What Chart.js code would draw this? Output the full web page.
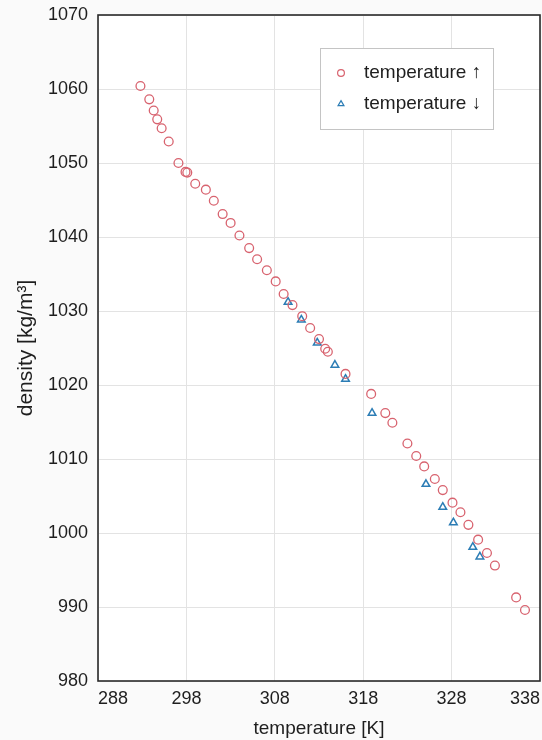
<!DOCTYPE html>
<html>
<head>
<meta charset="utf-8">
<script src="https://cdn.jsdelivr.net/npm/chart.js@4.4.1/dist/chart.umd.min.js"></script>
<style>
  html, body { margin: 0; padding: 0; background: #fafafa; }
  #wrap { width: 542px; height: 740px; position: relative; }
</style>
</head>
<body>
<div id="wrap"><canvas id="chart"></canvas></div>
<script>
// heating run (temperature up)
const upTemp = [292.8, 293.8, 294.3, 294.7, 295.2, 296.0, 297.1, 297.9, 298.1, 299.0, 300.2, 301.1,
  302.1, 303.0, 304.0, 305.1, 306.0, 307.1, 308.1, 309.0, 310.0, 311.1, 312.0, 313.0, 313.7, 314.0,
  316.0, 318.9, 320.5, 321.3, 323.0, 324.0, 324.9, 326.1, 327.0, 328.1, 329.0, 329.9, 331.0, 332.0,
  332.9, 335.3, 336.3];
const upDensity = [1060.4, 1058.6, 1057.1, 1055.9, 1054.7, 1052.9, 1050.0, 1048.8, 1048.7, 1047.2, 1046.4, 1044.9,
  1043.1, 1041.9, 1040.2, 1038.5, 1037.0, 1035.5, 1034.0, 1032.3, 1030.8, 1029.3, 1027.7, 1026.2, 1024.9, 1024.5,
  1021.5, 1018.8, 1016.2, 1014.9, 1012.1, 1010.4, 1009.0, 1007.3, 1005.8, 1004.1, 1002.8, 1001.1, 999.1, 997.3,
  995.6, 991.3, 989.6];

// cooling run (temperature down)
const downTemp = [309.5, 311.0, 312.8, 314.8, 316.0, 319.0, 325.1, 327.0, 328.2, 330.4, 331.2];
const downDensity = [1031.2, 1028.8, 1025.7, 1022.7, 1020.8, 1016.2, 1006.6, 1003.5, 1001.4, 998.1, 996.8];

const legendLabels = ['temperature \u2191', 'temperature \u2193'];
const redColor = '#d8636f';
const blueColor = '#2c7db5';
const textColor = '#1e1e1e';
const fontFamily = '"Liberation Sans", Arial, sans-serif';

const toPoints = (xs, ys) => xs.map((x, i) => ({ x: x, y: ys[i] }));

const frameAndLegend = {
  id: 'frameAndLegend',
  beforeDraw(chart) {
    const { ctx, chartArea: a } = chart;
    ctx.save();
    ctx.fillStyle = '#ffffff';
    ctx.fillRect(a.left, a.top, a.right - a.left, a.bottom - a.top);
    ctx.restore();
  },
  afterDraw(chart) {
    const { ctx, chartArea: a } = chart;
    ctx.save();
    ctx.strokeStyle = '#2a2a2a';
    ctx.lineWidth = 1.6;
    ctx.strokeRect(a.left, a.top, a.right - a.left, a.bottom - a.top);

    // legend box
    const bx = 320, by = 48, bw = 173, bh = 81;
    ctx.fillStyle = '#ffffff';
    ctx.fillRect(bx, by, bw, bh);
    ctx.strokeStyle = '#c4c4c4';
    ctx.lineWidth = 1;
    ctx.strokeRect(bx + 0.5, by + 0.5, bw, bh);

    const rows = [
      { y: 73, style: 'circle', color: redColor },
      { y: 104, style: 'triangle', color: blueColor }
    ];
    rows.forEach((r, i) => {
      ctx.fillStyle = 'rgba(0,0,0,0)';
      ctx.strokeStyle = r.color;
      ctx.lineWidth = 1.2;
      Chart.helpers.drawPoint(ctx, {
        pointStyle: r.style, radius: 3.4, borderWidth: 1.2, rotation: 0
      }, 341, r.y);
      ctx.fillStyle = textColor;
      ctx.font = '19px ' + fontFamily;
      ctx.textBaseline = 'middle';
      ctx.textAlign = 'left';
      ctx.fillText(legendLabels[i], 364, r.y);
    });
    ctx.restore();
  }
};

const tickFont = { family: fontFamily, size: 18 };

new Chart(document.getElementById('chart'), {
  type: 'scatter',
  data: {
    datasets: [
      {
        label: legendLabels[0],
        data: toPoints(upTemp, upDensity),
        pointStyle: 'circle',
        pointRadius: 4.4,
        pointBorderWidth: 1.3,
        borderColor: redColor,
        backgroundColor: 'rgba(0,0,0,0)'
      },
      {
        label: legendLabels[1],
        data: toPoints(downTemp, downDensity),
        pointStyle: 'triangle',
        pointRadius: 4.4,
        pointBorderWidth: 1.5,
        borderColor: blueColor,
        backgroundColor: 'rgba(0,0,0,0)'
      }
    ]
  },
  options: {
    responsive: true,
    maintainAspectRatio: false,
    animation: false,
    layout: { autoPadding: false, padding: { top: 15, right: 2, left: 0, bottom: 0 } },
    plugins: {
      legend: { display: false },
      tooltip: { enabled: false }
    },
    scales: {
      x: {
        type: 'linear',
        min: 288,
        max: 338,
        afterFit: (s) => { s.height = 59; s.paddingLeft = 0; s.paddingRight = 0; },
        ticks: { stepSize: 10, color: textColor, font: tickFont, padding: 7, align: 'inner', maxRotation: 0,
          callback: (v) => String(v) },
        grid: { color: '#e3e3e3', drawTicks: false },
        border: { display: false },
        title: { display: true, text: 'temperature [K]', color: textColor,
          font: { family: fontFamily, size: 19 }, padding: { top: 0, bottom: 0 } }
      },
      y: {
        type: 'linear',
        min: 980,
        max: 1070,
        afterFit: (s) => { s.width = 98; s.paddingTop = 0; s.paddingBottom = 0; },
        ticks: { stepSize: 10, color: textColor, font: tickFont, padding: 10,
          callback: (v) => String(v) },
        grid: { color: '#e3e3e3', drawTicks: false },
        border: { display: false },
        title: { display: true, text: 'density [kg/m\u00b3]', color: textColor,
          font: { family: fontFamily, size: 21 }, padding: { top: 14, bottom: 0 } }
      }
    }
  },
  plugins: [frameAndLegend]
});
</script>
</body>
</html>
